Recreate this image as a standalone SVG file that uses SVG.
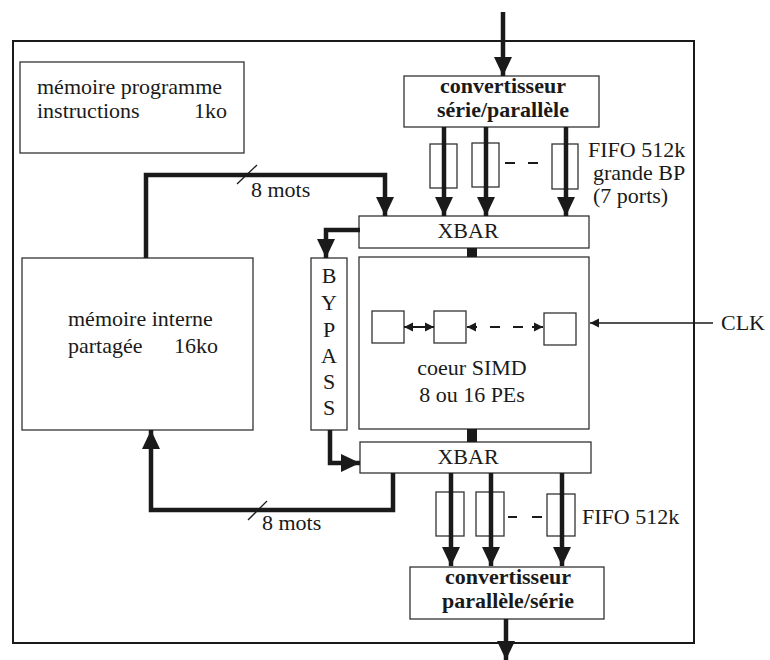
<svg xmlns="http://www.w3.org/2000/svg" width="770" height="660" viewBox="0 0 770 660">
<defs>
<marker id="big" markerUnits="userSpaceOnUse" markerWidth="20" markerHeight="20" refX="19" refY="9" orient="auto" viewBox="0 0 20 18">
<path d="M0,0 L19,9 L0,18 z" fill="#1a1a1a"/>
</marker>
<marker id="small" markerUnits="userSpaceOnUse" markerWidth="10" markerHeight="10" refX="9" refY="4.5" orient="auto" viewBox="0 0 10 9">
<path d="M0,0 L9,4.5 L0,9 z" fill="#1a1a1a"/>
</marker>
<marker id="smallS" markerUnits="userSpaceOnUse" markerWidth="10" markerHeight="10" refX="0" refY="4.5" orient="auto" viewBox="0 0 10 9">
<path d="M9,0 L0,4.5 L9,9 z" fill="#1a1a1a"/>
</marker>
</defs>
<style>
.box{fill:#fff;stroke:#333;stroke-width:1.3}
.t{font-family:"Liberation Serif","Times New Roman","DejaVu Serif",serif;font-size:22px;fill:#1a1a1a}
.b{font-weight:bold}
.thick{fill:none;stroke:#1a1a1a;stroke-width:4.5}
.thin{fill:none;stroke:#1a1a1a;stroke-width:1.3}
.mid{fill:none;stroke:#1a1a1a;stroke-width:2}
</style>
<rect width="770" height="660" fill="#fff"/>
<g id="outer"><rect x="13" y="41" width="681" height="602" fill="none" stroke="#1a1a1a" stroke-width="2"/></g>

<g id="prog-mem">
<rect class="box" x="20" y="62" width="224" height="91"/>
<text class="t" x="37" y="94">mémoire programme</text>
<text class="t" x="37" y="118">instructions</text>
<text class="t" x="227" y="118" text-anchor="end">1ko</text>
</g>

<g id="conv-in">
<rect class="box" x="404" y="76" width="195" height="51"/>
<text class="t b" x="503" y="93" text-anchor="middle">convertisseur</text>
<text class="t b" x="503" y="117" text-anchor="middle">série/parallèle</text>
</g>

<g id="fifo-in">
<rect class="box" x="430" y="144" width="27" height="44"/>
<rect class="box" x="472" y="143" width="27" height="44"/>
<rect class="box" x="552" y="144" width="26" height="45"/>
<path class="mid" d="M505,163 h10 M528,163 h10"/>
<text class="t" x="588" y="157">FIFO 512k</text>
<text class="t" x="593" y="180">grande BP</text>
<text class="t" x="593" y="203">(7 ports)</text>
</g>

<g id="xbar-top">
<rect class="box" x="359" y="216" width="230" height="32"/>
<text class="t" x="468" y="238" text-anchor="middle">XBAR</text>
</g>

<g id="mem-int">
<rect class="box" x="22" y="258" width="231" height="172"/>
<text class="t" x="68" y="326">mémoire interne</text>
<text class="t" x="68" y="353">partagée</text>
<text class="t" x="174" y="353">16ko</text>
</g>

<g id="bypass">
<rect class="box" x="311" y="258" width="36" height="172"/>
<text class="t" x="329" y="283" text-anchor="middle">B</text>
<text class="t" x="329" y="310" text-anchor="middle">Y</text>
<text class="t" x="329" y="337" text-anchor="middle">P</text>
<text class="t" x="329" y="363" text-anchor="middle">A</text>
<text class="t" x="329" y="389" text-anchor="middle">S</text>
<text class="t" x="329" y="415" text-anchor="middle">S</text>
</g>

<g id="core">
<rect class="box" x="359" y="257" width="230" height="172"/>
<rect class="box" x="372" y="311" width="32" height="32"/>
<rect class="box" x="434" y="311" width="32" height="32"/>
<rect class="box" x="544" y="313" width="32" height="32"/>
<text class="t" x="472" y="375" text-anchor="middle">coeur SIMD</text>
<text class="t" x="472" y="402" text-anchor="middle">8 ou 16 PEs</text>
</g>

<g id="xbar-bot">
<rect class="box" x="360" y="442" width="231" height="31"/>
<text class="t" x="468" y="464" text-anchor="middle">XBAR</text>
</g>

<g id="fifo-out">
<rect class="box" x="436" y="492" width="28" height="44"/>
<rect class="box" x="476" y="492" width="28" height="44"/>
<rect class="box" x="547" y="494" width="28" height="42"/>
<path class="mid" d="M508,517 h9 M532,517 h10"/>
<text class="t" x="582" y="524">FIFO 512k</text>
</g>

<g id="conv-out">
<rect class="box" x="410" y="567" width="194" height="52"/>
<text class="t b" x="508" y="584" text-anchor="middle">convertisseur</text>
<text class="t b" x="508" y="608" text-anchor="middle">parallèle/série</text>
</g>

<g id="clk"><text class="t" x="721" y="330">CLK</text></g>

<g id="connectors">
<line class="thick" x1="503" y1="12" x2="503" y2="76" marker-end="url(#big)"/>
<line class="thick" x1="444" y1="127" x2="444" y2="216" marker-end="url(#big)"/>
<line class="thick" x1="486" y1="127" x2="486" y2="216" marker-end="url(#big)"/>
<line class="thick" x1="566" y1="127" x2="566" y2="216" marker-end="url(#big)"/>
<polyline class="thick" points="146,258 146,175 385,175 385,216" marker-end="url(#big)"/>
<line class="thin" x1="237" y1="184" x2="257" y2="165"/>
<text class="t" x="251" y="197">8 mots</text>
<polyline class="thick" points="360,230 326,230 326,258" marker-end="url(#big)"/>
<rect x="467" y="248" width="10" height="9" fill="#1a1a1a"/>
<rect x="467" y="429" width="10" height="13" fill="#1a1a1a"/>
<line class="mid" x1="404" y1="327" x2="434" y2="327" marker-start="url(#smallS)" marker-end="url(#small)"/>
<line class="mid" x1="467" y1="327" x2="477" y2="327" marker-start="url(#smallS)"/>
<path class="mid" d="M490,327 h10 M513,327 h10"/>
<line class="mid" x1="532" y1="327" x2="543" y2="327" marker-end="url(#small)"/>
<line class="thin" x1="713" y1="323" x2="590" y2="323" marker-end="url(#small)"/>
<polyline class="thick" points="330,430 330,463 360,463" marker-end="url(#big)"/>
<polyline class="thick" points="393,473 393,510 151,510 151,430" marker-end="url(#big)"/>
<line class="thin" x1="248" y1="520" x2="267" y2="501"/>
<text class="t" x="262" y="530">8 mots</text>
<line class="thick" x1="451" y1="473" x2="451" y2="566" marker-end="url(#big)"/>
<line class="thick" x1="491" y1="473" x2="491" y2="566" marker-end="url(#big)"/>
<line class="thick" x1="562" y1="473" x2="562" y2="566" marker-end="url(#big)"/>
<line class="thick" x1="506" y1="619" x2="506" y2="660" marker-end="url(#big)"/>
</g>
</svg>
